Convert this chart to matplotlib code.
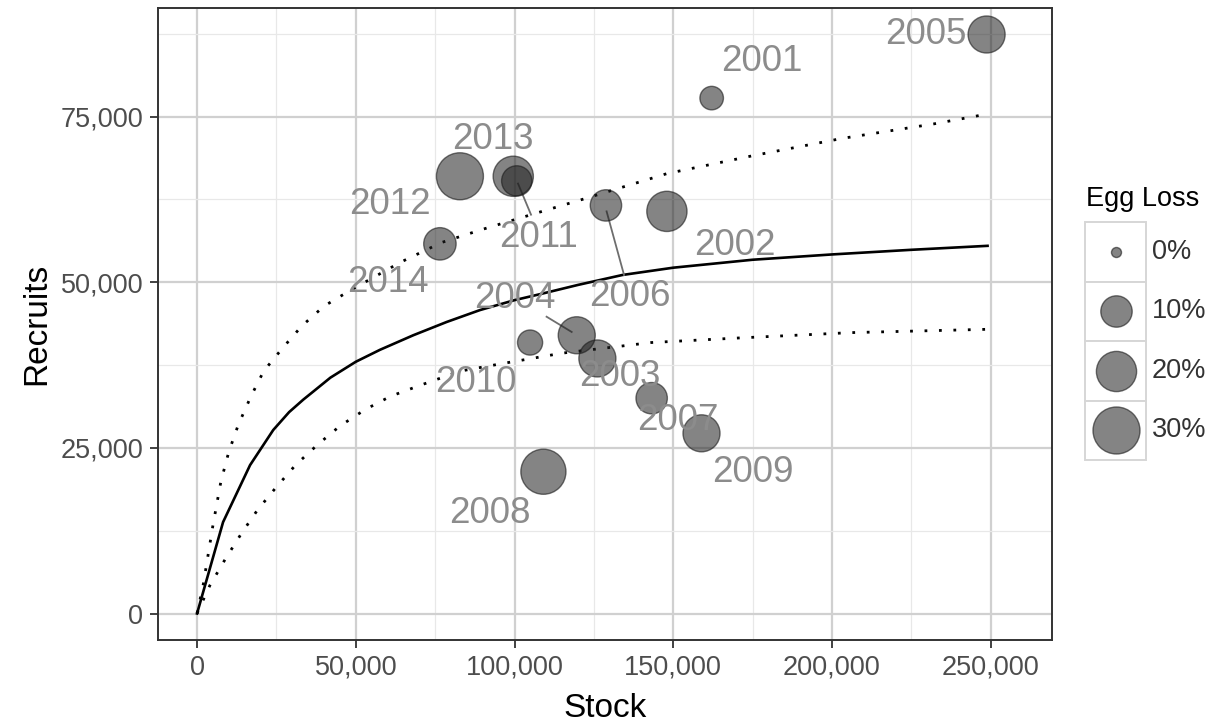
import numpy as np
import matplotlib
matplotlib.use("Agg")
import matplotlib.pyplot as plt
from matplotlib.ticker import FuncFormatter, MultipleLocator

plt.rcParams['font.family'] = ['Liberation Sans', 'DejaVu Sans']

# observed stock/recruit points
years = ['2001', '2002', '2003', '2004', '2005', '2006', '2007',
         '2008', '2009', '2010', '2011', '2012', '2013', '2014']
stock = [162100, 148000, 126100, 119600, 248700, 128800, 143200,
         109100, 158900, 104900, 100700, 82800, 99600, 76500]
recruits = [77800, 60700, 38500, 42000, 87400, 61600, 32500,
            21400, 27200, 40900, 65300, 66000, 66000, 55800]
egg_loss = [4, 20, 16, 16, 16, 10, 10, 27, 16, 5, 9, 30, 20, 11]

# label positions (repelled text) and leader segments
label_x = [178000, 169400, 133200, 100200, 229600, 136400, 151500,
           92300, 175100, 87900, 107400, 60800, 93200, 60200]
label_y = [83300, 55600, 35700, 47600, 87400, 47800, 29200,
           15100, 21300, 34800, 56800, 61700, 71500, 49900]
seg_years = ['2011', '2006', '2004']
seg_from = [(101100, 64900), (129000, 60700), (110100, 44800)]
seg_to = [(105200, 60200), (134500, 51100), (118000, 42500)]

# fitted curve (solid) and bounds (dotted)
fit_s = [0, 8200, 16700, 24000, 29000, 33500, 36600, 42000, 50000, 57600,
         68100, 78600, 89100, 100000, 108000, 120000, 134000, 150000,
         175000, 200000, 225000, 249000]
fit_r = [0, 13800, 22400, 27700, 30400, 32300, 33500, 35600, 38000, 39800,
         42000, 44000, 45800, 47300, 48200, 49600, 51100, 52200,
         53400, 54200, 54900, 55500]
up_s = [0, 2000, 5000, 7500, 10000, 13000, 17000, 21000, 27000, 33000,
        40000, 48000, 64000, 77000, 90000, 108000, 122000, 148000,
        175000, 203000, 232000, 249000]
up_r = [0, 4500, 13300, 19900, 24400, 28500, 32800, 36600, 40100, 43400,
        46400, 48700, 53000, 56000, 58000, 60600, 62600, 66400,
        69100, 71700, 73900, 75400]
lo_s = [0, 4000, 9000, 14000, 19000, 25000, 31000, 38000, 45000, 53000,
        61000, 70000, 83000, 97000, 115000, 143000, 171000, 206000, 249000]
lo_r = [0, 4200, 8300, 12100, 15600, 19100, 22400, 25500, 28300, 30800,
        32800, 34400, 36600, 37800, 39300, 40900, 41600, 42400, 42900]

legend_vals = [0, 10, 20, 30]


def point_size(v):
    # area scale: diameter in px between 10 (0%) and 47 (30%)
    d = 10 + 37 * np.sqrt(np.asarray(v, dtype=float) / 30.0)
    return (d * 72 / 100) ** 2


fig = plt.figure(figsize=(12.14, 7.28), dpi=100)
ax = fig.add_axes([158 / 1214, 1 - 640 / 728, (1052 - 158) / 1214, (640 - 8) / 728])

ax.set_xlim(-12300, 269300)
ax.set_ylim(-4000, 91400)

ax.xaxis.set_major_locator(MultipleLocator(50000))
ax.xaxis.set_minor_locator(MultipleLocator(25000))
ax.yaxis.set_major_locator(MultipleLocator(25000))
ax.yaxis.set_minor_locator(MultipleLocator(12500))
ax.grid(which='major', color='#d0d0d0', lw=1.6, zorder=0)
ax.grid(which='minor', color='#e8e8e8', lw=0.9, zorder=0)
ax.set_axisbelow(True)

fmt = FuncFormatter(lambda v, p: f'{int(v):,}')
ax.xaxis.set_major_formatter(fmt)
ax.yaxis.set_major_formatter(fmt)
ax.tick_params(which='major', length=5.5, width=1.3, color='#333333',
               labelcolor='#4d4d4d', labelsize=19.5, pad=5)
ax.tick_params(which='minor', length=0)
for sp in ax.spines.values():
    sp.set_color('#333333')
    sp.set_linewidth(1.4)

ax.set_xlabel('Stock', fontsize=24, color='black', labelpad=9)
ax.set_ylabel('Recruits', fontsize=24, color='black', labelpad=6)

# curves
ax.plot(up_s, up_r, color='black', lw=2.0, ls=(0, (1, 4.2)), zorder=2)
ax.plot(lo_s, lo_r, color='black', lw=2.0, ls=(0, (1, 4.2)), zorder=2)
ax.plot(fit_s, fit_r, color='black', lw=1.9, zorder=2)

# leader segments
for a, b in zip(seg_from, seg_to):
    ax.plot([a[0], b[0]], [a[1], b[1]], color='#6e6e6e', lw=1.3, zorder=3)

# points
ax.scatter(stock, recruits, s=point_size(egg_loss),
           facecolor=(0.12, 0.12, 0.12, 0.55), edgecolor=(0.1, 0.1, 0.1, 0.6),
           lw=1.0, zorder=4)

# labels
for yr, lx, ly in zip(years, label_x, label_y):
    ax.text(lx, ly, yr, fontsize=26.5, color='#8c8c8c', ha='center', va='center',
            zorder=5)

# legend drawn in pixel space
ov = fig.add_axes([0, 0, 1, 1], facecolor='none')
ov.set_xlim(0, 1214)
ov.set_ylim(728, 0)
ov.axis('off')
ov.text(1086, 199, 'Egg Loss', fontsize=19.5, ha='left', va='center', color='black')
box_top = 222
box_h = 59.5
for i, v in enumerate(legend_vals):
    y0 = box_top + i * box_h
    ov.add_patch(plt.Rectangle((1085, y0), 61, box_h, facecolor='white',
                               edgecolor='#d6d6d6', lw=1.4))
    ov.scatter([1115.5], [y0 + box_h / 2], s=point_size(v),
               facecolor=(0.12, 0.12, 0.12, 0.55), edgecolor=(0.1, 0.1, 0.1, 0.6),
               lw=1.0, zorder=3)
    ov.text(1152, y0 + box_h / 2, f'{v}%', fontsize=19.5, ha='left', va='center',
            color='#333333')

fig.savefig('out.png', dpi=100)
